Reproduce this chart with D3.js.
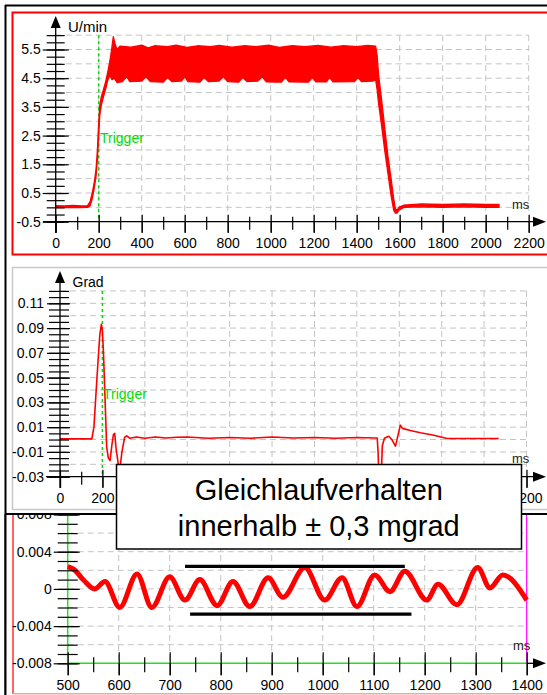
<!DOCTYPE html>
<html><head><meta charset="utf-8">
<script src="https://cdn.jsdelivr.net/npm/d3@7"></script>
<style>
body{margin:0;background:#fff}
svg{display:block}
text{font-family:"Liberation Sans",Arial,Helvetica,sans-serif}
</style>
</head><body>
<svg id="c" width="547" height="695"></svg>
<script>
// ---------- DATA ----------
const triggerMs = 200;
// Panel 1: speed (U/min) – envelope of the noisy trace
const speedLabelsY = [-0.5, 0.5, 1.5, 2.5, 3.5, 4.5, 5.5];
const timeLabels = [0, 200, 400, 600, 800, 1000, 1200, 1400, 1600, 1800, 2000, 2200];
const speedUpper = [[0,0.06],[40,0.05],[80,0.07],[120,0.05],[148,0.06],[160,0.2],[170,0.5],[180,0.9],[188,1.35],[194,2.0],[199,2.8],[205,3.55],[212,3.85],[222,4.1],[233,4.4],[243,4.75],[252,5.1],[260,5.5],[268,5.95],[276,5.7],[285,5.5],[300,5.62],[350,5.58],[400,5.65],[430,5.56],[460,5.63],[520,5.6],[560,5.65],[610,5.57],[660,5.63],[720,5.6],[760,5.64],[820,5.58],[880,5.63],[930,5.6],[990,5.65],[1040,5.57],[1100,5.63],[1160,5.6],[1220,5.64],[1280,5.58],[1340,5.63],[1400,5.6],[1450,5.64],[1488,5.62],[1495,5.3],[1502,4.6],[1515,3.8],[1530,2.8],[1545,1.8],[1560,1.0],[1572,0.3],[1580,-0.05],[1588,-0.1],[1596,0.0],[1620,0.08],[1700,0.12],[1800,0.1],[1900,0.12],[2000,0.1],[2062,0.1]];
const speedLower = [[0,-0.01],[40,-0.01],[80,0.0],[120,-0.01],[148,0.0],[160,0.05],[170,0.3],[180,0.7],[188,1.1],[194,1.7],[199,2.4],[205,3.2],[212,3.55],[222,3.85],[233,4.15],[243,4.45],[252,4.6],[262,4.45],[272,4.5],[285,4.35],[310,4.38],[330,4.55],[345,4.38],[400,4.4],[420,4.55],[440,4.38],[500,4.36],[520,4.52],[540,4.38],[585,4.4],[600,4.55],[615,4.38],[670,4.36],[690,4.52],[710,4.38],[760,4.4],[780,4.55],[800,4.38],[850,4.36],[870,4.52],[890,4.38],[940,4.4],[960,4.55],[980,4.37],[1050,4.36],[1068,4.53],[1085,4.37],[1175,4.36],[1194,4.53],[1210,4.37],[1260,4.37],[1273,4.53],[1290,4.37],[1390,4.38],[1406,4.53],[1422,4.38],[1475,4.4],[1488,4.45],[1495,4.1],[1502,3.6],[1515,2.9],[1530,2.0],[1545,1.2],[1560,0.4],[1572,-0.1],[1580,-0.2],[1588,-0.2],[1596,-0.1],[1620,0.0],[1700,0.02],[1800,0.0],[1900,0.02],[2000,0.0],[2062,0.0]];
// Panel 2: angle (Grad)
const angleLabelsY = [-0.03, -0.01, 0.01, 0.03, 0.05, 0.07, 0.09, 0.11];
const angleLabelsX = [0, 200, 2200];   // the others are hidden behind the note box
const angle = [[0,0.0005],[150,0.0005],[160,0.01],[170,0.038],[180,0.065],[188,0.085],[195,0.093],[200,0.088],[205,0.07],[210,0.045],[215,0.02],[220,-0.006],[228,-0.015],[236,-0.017],[245,-0.004],[252,0.004],[258,0.005],[265,-0.008],[275,-0.02],[283,-0.023],[292,-0.01],[305,0.002],[315,0.003],[330,0.001],[360,0.002],[400,0.001],[450,0.002],[500,0.0012],[550,0.0018],[600,0.002],[700,0.001],[800,0.0016],[900,0.0011],[1000,0.002],[1100,0.0012],[1200,0.0017],[1300,0.001],[1400,0.0016],[1480,0.0012],[1496,0.0012],[1500,-0.01],[1505,-0.035],[1514,-0.035],[1520,-0.005],[1530,0.001],[1550,0.0027],[1565,0.0],[1582,-0.0053],[1592,0.002],[1605,0.0116],[1615,0.009],[1652,0.0073],[1700,0.0055],[1763,0.0035],[1826,0.0009],[2069,0.0009]];
// Panel 3: zoomed synchronism (Grad)
const zoomLabelsY = [-0.008, -0.004, 0, 0.004, 0.008];
const zoomLabelsX = [500, 600, 700, 800, 900, 1000, 1100, 1200, 1300, 1400];
const syncWave = [[500,0.0024],[512,0.0021],[532,0.0009],[553,0.0],[573,0.0008],[602,-0.002],[636,0.0016],[665,-0.002],[700,0.0013],[730,-0.0012],[759,0.001],[793,-0.0018],[824,0.0008],[857,-0.0019],[893,0.0012],[922,-0.0009],[965,0.0023],[1004,-0.0012],[1038,0.0012],[1067,-0.0019],[1102,0.0015],[1132,-0.0003],[1161,0.0019],[1204,-0.0012],[1226,0.0005],[1263,-0.0017],[1304,0.0023],[1328,0.0001],[1353,0.0015],[1400,-0.0012]];
const limitUpper = [[730,0.00243],[1161,0.00243]];
const limitLower = [[740,-0.00271],[1174,-0.00271]];
const boxLines = ["Gleichlaufverhalten", "innerhalb \u00b1 0,3 mgrad"];

// ---------- DRAW ----------
const svg = d3.select("#c");
const FONT = '"Liberation Sans",Arial,Helvetica,sans-serif';
const GREEN = "#00dc00";
const GRID = "#c4c4c4";

svg.append("defs").append("clipPath").attr("id", "clip3")
  .append("rect").attr("x", 6).attr("y", 515).attr("width", 541).attr("height", 180);

function styleAxis(g, size) {
  g.selectAll(".domain").remove();
  g.selectAll("line").attr("stroke", "#000").attr("stroke-width", 1.2);
  g.selectAll("text").attr("font-size", size).attr("font-family", FONT).attr("fill", "#000");
}
function yAxis(parent, y, x, minor, major, mL, mR, MjL, MjR, pad) {
  const a = parent.append("g").attr("transform", `translate(${x},0)`);
  a.append("g").call(d3.axisLeft(y).tickValues(minor).tickSize(mL).tickFormat(""));
  a.append("g").call(d3.axisRight(y).tickValues(minor).tickSize(mR).tickFormat(""));
  a.append("g").call(d3.axisLeft(y).tickValues(major).tickSize(MjL).tickPadding(pad).tickFormat(d => String(d)));
  a.append("g").call(d3.axisRight(y).tickValues(major).tickSize(MjR).tickFormat(""));
  styleAxis(a, 14);
}
function xAxis(parent, x, y, minor, major, labels, mU, mD, MjU, MjD, pad, fs) {
  const a = parent.append("g").attr("transform", `translate(0,${y})`);
  a.append("g").call(d3.axisTop(x).tickValues(minor).tickSize(mU).tickFormat(""));
  a.append("g").call(d3.axisBottom(x).tickValues(minor).tickSize(mD).tickFormat(""));
  a.append("g").call(d3.axisTop(x).tickValues(major).tickSize(MjU).tickFormat(""));
  a.append("g").call(d3.axisBottom(x).tickValues(major).tickSize(MjD).tickFormat(""));
  a.append("g").call(d3.axisBottom(x).tickValues(labels).tickSize(MjD).tickPadding(pad).tickFormat(d => String(d)));
  styleAxis(a, fs);
}
function arrowRight(g, xTip, y) {
  g.append("path").attr("d", `M${xTip},${y} L${xTip-13},${y-5} L${xTip-13},${y+5} Z`).attr("fill", "#000");
}
function arrowUp(g, x, yTip) {
  g.append("path").attr("d", `M${x},${yTip} L${x-5},${yTip+12} L${x+5},${yTip+12} Z`).attr("fill", "#000");
}
function grid(g, xs, ys, xVals, yVals, xA, xB, yA, yB) {
  g.selectAll(null).data(yVals).join("line")
    .attr("x1", xA).attr("x2", xB).attr("y1", d => ys(d)).attr("y2", d => ys(d))
    .attr("stroke", GRID).attr("stroke-dasharray", "6,4").attr("stroke-width", 1);
  g.selectAll(null).data(xVals).join("line")
    .attr("x1", d => xs(d)).attr("x2", d => xs(d)).attr("y1", yA).attr("y2", yB)
    .attr("stroke", GRID).attr("stroke-dasharray", "6,4").attr("stroke-width", 1);
}

// Frames
svg.append("line").attr("x1", 5).attr("x2", 547).attr("y1", 5.5).attr("y2", 5.5).attr("stroke", "#000").attr("stroke-width", 2);
svg.append("line").attr("x1", 5.5).attr("x2", 5.5).attr("y1", 5).attr("y2", 695).attr("stroke", "#000").attr("stroke-width", 2);
svg.append("rect").attr("x", 12.5).attr("y", 12.5).attr("width", 560).attr("height", 242).attr("fill", "none").attr("stroke", "#ff0000").attr("stroke-width", 2);
svg.append("rect").attr("x", 12.5).attr("y", 267.5).attr("width", 560).attr("height", 242).attr("fill", "none").attr("stroke", "#c8c8c8").attr("stroke-width", 1.5);

// ===== Panel 1 =====
const p1 = svg.append("g");
const x1 = d3.scaleLinear().domain([0, 2200]).range([55.7, 528.7]);
const y1 = d3.scaleLinear().domain([-0.5, 5.5]).range([221.7, 49.5]);
grid(p1, x1, y1, d3.range(200, 2201, 200), d3.range(0, 6.01, 0.5), x1(0), x1(2200), y1(6), y1(-0.5));
p1.append("line").attr("x1", x1(triggerMs)).attr("x2", x1(triggerMs)).attr("y1", y1(6)).attr("y2", y1(-0.5))
  .attr("stroke", GREEN).attr("stroke-width", 1.5).attr("stroke-dasharray", "3,3");
const envelope = speedUpper.concat(speedLower.slice().reverse());
p1.append("path")
  .attr("d", d3.line().x(d => x1(d[0])).y(d => y1(d[1]))(envelope) + "Z")
  .attr("fill", "#ff0000").attr("stroke", "#ff0000").attr("stroke-width", 1.3).attr("stroke-linejoin", "round");
p1.append("line").attr("x1", 43).attr("x2", 540).attr("y1", y1(-0.5)).attr("y2", y1(-0.5)).attr("stroke", "#000").attr("stroke-width", 1.3);
p1.append("line").attr("x1", x1(0)).attr("x2", x1(0)).attr("y1", 22).attr("y2", 233).attr("stroke", "#000").attr("stroke-width", 1.3);
yAxis(p1, y1, x1(0), d3.range(-0.5, 6.01, 0.25).map(v => +v.toFixed(2)), speedLabelsY, 9, 9, 13, 13, 2);
xAxis(p1, x1, y1(-0.5), d3.range(100, 2101, 200), timeLabels, timeLabels, 5, 8, 7, 11, 5, 14);
arrowRight(p1, 546, y1(-0.5));
arrowUp(p1, x1(0), 16);
p1.append("text").attr("x", 68).attr("y", 31.5).attr("font-size", 15).text("U/min");
p1.append("text").attr("x", 512).attr("y", 209).attr("font-size", 13).attr("fill", "#222").text("ms");
p1.append("text").attr("x", 100).attr("y", 143).attr("font-size", 14).attr("fill", GREEN).text("Trigger");

// ===== Panel 2 =====
const p2 = svg.append("g");
const x2 = d3.scaleLinear().domain([0, 2200]).range([60, 526.5]);
const y2 = d3.scaleLinear().domain([-0.03, 0.11]).range([476.7, 303.3]);
grid(p2, x2, y2, d3.range(400, 2201, 200), d3.range(-0.02, 0.1201, 0.01).map(v => +v.toFixed(3)), x2(0), x2(2200), y2(0.12), y2(-0.03));
p2.append("line").attr("x1", x2(triggerMs)).attr("x2", x2(triggerMs)).attr("y1", y2(0.12)).attr("y2", y2(-0.03))
  .attr("stroke", GREEN).attr("stroke-width", 1.5).attr("stroke-dasharray", "3,3");
p2.append("path").datum(angle)
  .attr("d", d3.line().x(d => x2(d[0])).y(d => y2(d[1])))
  .attr("fill", "none").attr("stroke", "#ff0000").attr("stroke-width", 1.6).attr("stroke-linejoin", "round");
p2.append("line").attr("x1", 46).attr("x2", 540).attr("y1", y2(-0.03)).attr("y2", y2(-0.03)).attr("stroke", "#000").attr("stroke-width", 1.3);
p2.append("line").attr("x1", x2(0)).attr("x2", x2(0)).attr("y1", 278).attr("y2", 488).attr("stroke", "#000").attr("stroke-width", 1.3);
yAxis(p2, y2, x2(0), d3.range(-0.03, 0.1201, 0.005).map(v => +v.toFixed(3)), angleLabelsY, 11, 9, 13, 10, 3);
xAxis(p2, x2, y2(-0.03), d3.range(100, 2101, 200), timeLabels, angleLabelsX, 5, 8, 7, 11, 5, 14);
arrowRight(p2, 546, y2(-0.03));
arrowUp(p2, x2(0), 271);
p2.append("text").attr("x", 72.5).attr("y", 286.5).attr("font-size", 14).text("Grad");
p2.append("text").attr("x", 512).attr("y", 463).attr("font-size", 13).attr("fill", "#222").text("ms");
p2.append("text").attr("x", 103).attr("y", 398.5).attr("font-size", 14).attr("fill", GREEN).text("Trigger");

// ===== Panel 3 =====
svg.append("rect").attr("x", 6).attr("y", 514).attr("width", 541).attr("height", 181).attr("fill", "#fff");
svg.append("line").attr("x1", 13).attr("x2", 13).attr("y1", 515).attr("y2", 694).attr("stroke", "#ff3030").attr("stroke-width", 1.5);
svg.append("line").attr("x1", 13).attr("x2", 547).attr("y1", 693.7).attr("y2", 693.7).attr("stroke", "#ffa0a0").attr("stroke-width", 1.5);
const p3 = svg.append("g").attr("clip-path", "url(#clip3)");
const x3 = d3.scaleLinear().domain([500, 1400]).range([67.7, 526.7]);
const y3 = d3.scaleLinear().domain([-0.008, 0.004]).range([663.3, 551.7]);
grid(p3, x3, y3, d3.range(600, 1301, 100), d3.range(-0.006, 0.0061, 0.002).map(v => +v.toFixed(3)), x3(500), x3(1400), 515, y3(-0.008));
p3.append("line").attr("x1", x3(1400)).attr("x2", x3(1400)).attr("y1", 515).attr("y2", y3(-0.008)).attr("stroke", "#ff00ff").attr("stroke-width", 1.2);
p3.append("line").attr("x1", x3(500)).attr("x2", x3(500)).attr("y1", 515).attr("y2", y3(-0.008)).attr("stroke", "#22e022").attr("stroke-width", 1.5);
p3.append("line").attr("x1", x3(500)).attr("x2", x3(1400)).attr("y1", y3(-0.008)).attr("y2", y3(-0.008)).attr("stroke", "#22e022").attr("stroke-width", 1.5);
p3.append("line").attr("x1", x3(1400)).attr("x2", 540).attr("y1", y3(-0.008)).attr("y2", y3(-0.008)).attr("stroke", "#000").attr("stroke-width", 1.3);
p3.append("path").datum(syncWave)
  .attr("d", d3.line().x(d => x3(d[0])).y(d => y3(d[1])).curve(d3.curveMonotoneX))
  .attr("fill", "none").attr("stroke", "#ff0000").attr("stroke-width", 5).attr("stroke-linejoin", "round");
[limitUpper, limitLower].forEach(seg => {
  p3.append("path").datum(seg).attr("d", d3.line().x(d => x3(d[0])).y(d => y3(d[1])))
    .attr("stroke", "#000").attr("stroke-width", 3.2).attr("fill", "none");
});
yAxis(p3, y3, x3(500), d3.range(-0.008, 0.0081, 0.001).map(v => +v.toFixed(3)), zoomLabelsY, 10, 10, 14, 12, 2);
xAxis(p3, x3, y3(-0.008), d3.range(550, 1351, 100), zoomLabelsX, zoomLabelsX, 6, 9, 11, 12, 5, 14);
arrowRight(p3, 546, y3(-0.008));
p3.append("text").attr("x", 513).attr("y", 650).attr("font-size", 13).attr("fill", "#222").text("ms");
svg.append("line").attr("x1", 5).attr("x2", 547).attr("y1", 514).attr("y2", 514).attr("stroke", "#000").attr("stroke-width", 2);
svg.append("line").attr("x1", 5.5).attr("x2", 5.5).attr("y1", 514).attr("y2", 695).attr("stroke", "#000").attr("stroke-width", 2);

// ===== Annotation box =====
const box = svg.append("g");
box.append("rect").attr("x", 116.5).attr("y", 464.5).attr("width", 405).attr("height", 84.5)
  .attr("fill", "#fff").attr("stroke", "#000").attr("stroke-width", 1.5);
box.selectAll(null).data(boxLines).join("text")
  .attr("x", 318.8).attr("y", (d, i) => 500 + i * 36).attr("text-anchor", "middle")
  .attr("font-size", 29).attr("fill", "#000").text(d => d);
</script>
</body></html>
